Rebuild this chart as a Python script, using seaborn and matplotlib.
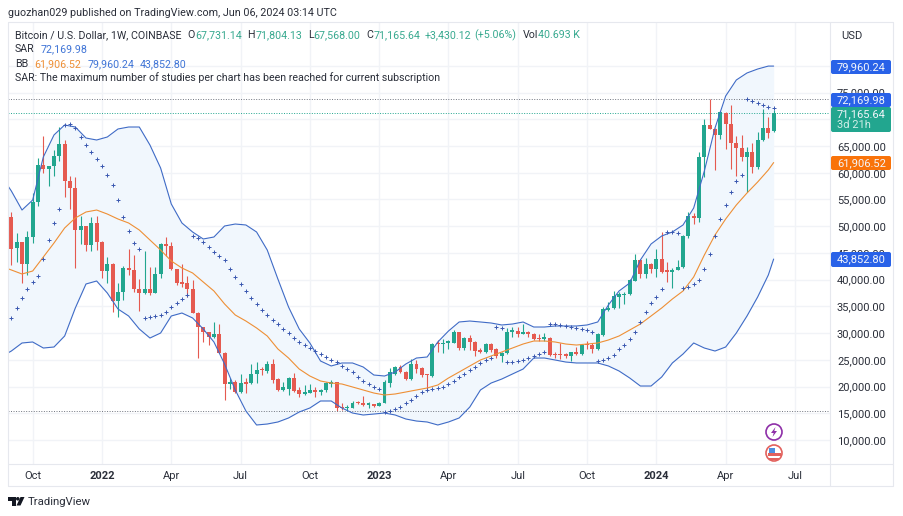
import matplotlib
matplotlib.use('Agg')
import pandas as pd
import matplotlib.pyplot as plt
from matplotlib.lines import Line2D
from matplotlib.patches import Circle, FancyBboxPatch, Polygon, Rectangle
from matplotlib.ticker import StrMethodFormatter
from matplotlib.transforms import IdentityTransform
import seaborn as sns

# Weekly candles, BTC/USD
opens = [51660, 45920, 47040, 42990, 48040, 54530, 61390, 60640, 61200, 63140,
         65380, 58520, 57150, 49290, 49980, 46480, 50660, 47110, 41680, 42930,
         36070, 37750, 42240, 41800, 38190, 37440, 38190, 37570, 41060, 46670,
         46300, 41930, 39560, 39310, 38310, 33820, 31140, 30140, 29210, 29770,
         26340, 20410, 20850, 18980, 20730, 20600, 22410, 23280, 22910, 24220,
         21480, 19350, 19540, 21660, 19290, 18610, 18790, 19290, 19040, 19350,
         20540, 20790, 16240, 15920, 16050, 17110, 16920, 16550, 16740, 16420,
         16920, 20600, 22350, 23660, 22790, 21410, 24160, 23410, 22290, 22040,
         28090, 27900, 28150, 28210, 30140, 27150, 29150, 28400, 26780, 26530,
         27960, 27030, 25780, 26220, 30210, 30460, 29890, 30140, 29830, 29020,
         28900, 29150, 26030, 26030, 25900, 25720, 26400, 26030, 27900, 27770,
         27030, 29650, 34320, 34630, 36820, 37070, 37250, 39810, 43680, 41120,
         42930, 41990, 43860, 41620, 41430, 41870, 42430, 48230, 51910, 51530,
         62950, 68940, 68190, 67000, 71120, 69190, 65630, 64700, 62890, 63880,
         61140, 66130, 68310, 67731]
closes = [45800, 46980, 42990, 48040, 54530, 61390, 60640, 61200, 63140, 65380,
          58520, 57150, 49290, 49980, 46480, 50660, 47110, 41680, 42930, 36070,
          37750, 42240, 41800, 38190, 37570, 38190, 37570, 41060, 46670, 46300,
          41930, 39440, 39190, 38310, 33820, 31140, 30140, 29210, 29770, 26340,
          20410, 20850, 18980, 20600, 20480, 22410, 23100, 23030, 24220, 21230,
          19350, 19920, 21660, 19170, 18610, 18860, 19290, 18920, 19350, 20600,
          20790, 15920, 15920, 16050, 16980, 16860, 16490, 16740, 16360, 16920,
          20910, 22790, 23660, 22660, 21480, 24160, 23280, 22160, 22100, 27900,
          27900, 28150, 28340, 30140, 27150, 29020, 28340, 26650, 26530, 27960,
          26900, 25780, 26340, 30270, 30390, 29830, 30080, 29770, 28960, 28830,
          29020, 25900, 25840, 25840, 25780, 26400, 26030, 27770, 27710, 27030,
          29830, 34450, 34760, 36940, 37250, 37320, 39940, 43680, 41120, 42930,
          41990, 43860, 41490, 41430, 41870, 42430, 48230, 51910, 51530, 62950,
          68940, 68190, 67000, 71430, 69190, 65630, 64700, 62890, 63880, 61140,
          66130, 68310, 67500, 71165]
highs = [52720, 48670, 47100, 49170, 56280, 62700, 66880, 61300, 64260, 68620,
         66130, 59390, 59140, 51910, 50100, 51790, 51910, 47230, 44300, 43180,
         39310, 42550, 45670, 44610, 40060, 45420, 42430, 42310, 46800, 48040,
         47110, 42060, 42930, 40680, 39940, 33900, 31200, 30270, 32140, 31640,
         26400, 21540, 21220, 22350, 21540, 24220, 24530, 23720, 24840, 25090,
         21600, 20850, 21760, 22600, 19850, 20230, 20480, 19850, 19480, 20910,
         21230, 20900, 16860, 16550, 17300, 17300, 18230, 17050, 16800, 17050,
         21230, 23410, 23850, 23970, 22910, 25090, 24970, 23720, 22400, 28090,
         28710, 28840, 28710, 30580, 30270, 29330, 29650, 28590, 27150, 28090,
         28210, 27150, 26530, 30890, 31080, 31080, 31700, 30460, 30080, 29770,
         29960, 29330, 26530, 28090, 26210, 26530, 27460, 27900, 28520, 28090,
         29960, 34950, 35820, 37940, 37750, 37750, 40060, 44800, 43800, 43990,
         43180, 45740, 48850, 43360, 42120, 43680, 48300, 52720, 52530, 63820,
         70000, 73835, 68400, 71620, 71370, 72680, 66880, 67070, 64880, 65510,
         67690, 71870, 70370, 71804]
lows = [42740, 43370, 39440, 40870, 46800, 53780, 59890, 57520, 59390, 62200,
        55400, 53160, 42180, 46670, 45300, 45300, 45550, 40250, 39440, 33880,
        33070, 36190, 40870, 37750, 34200, 37300, 37070, 37500, 40250, 44430,
        41810, 39000, 38560, 36820, 33700, 25280, 28400, 27770, 29100, 26210,
        17480, 19480, 18730, 18730, 18730, 20500, 20600, 22160, 22470, 20600,
        19250, 19250, 18420, 19070, 17980, 18420, 18730, 17980, 18420, 19040,
        19980, 15480, 15610, 15490, 15920, 16670, 16360, 16050, 16240, 16360,
        16860, 19980, 22160, 22470, 21230, 21230, 22470, 21850, 19540, 21850,
        26530, 26340, 26960, 28090, 26840, 26840, 26840, 25720, 26220, 26340,
        26530, 25280, 24660, 26090, 29330, 29330, 29770, 29330, 28710, 28580,
        28580, 25720, 25280, 25150, 25280, 24840, 25900, 25900, 27030, 26340,
        26840, 29460, 34200, 34450, 34630, 35450, 37130, 39690, 40250, 40250,
        41180, 40560, 41310, 39620, 38380, 41740, 42240, 47730, 50410, 50850,
        59140, 68120, 60520, 66250, 64450, 60700, 59460, 62260, 56400, 60020,
        60640, 66000, 66440, 67568]

# Parabolic SAR, one value per week
sar = [32830, 34700, 36570, 38250, 39560, 40680, 43870, 47420, 50600, 53220,
       68940, 69120, 68380, 66690, 65190, 63880, 62580, 61270, 59580, 57710,
       54900, 51720, 49100, 46860, 45740, 32830, 33010, 33200, 33390, 33950,
       34880, 35630, 36380, 37130, 48170, 47790, 47050, 46110, 45170, 44430,
       43680, 41990, 40500, 39190, 37880, 36570, 35450, 34320, 33390, 32450,
       31700, 30770, 30020, 29080, 28340, 27770, 27210, 26650, 26090, 25530,
       24970, 24590, 23850, 23280, 22720, 21790, 21040, 20480, 19920, 19540,
       15240, 15430, 15800, 16170, 16920, 17480, 18230, 18980, 19360, 19540,
       19730, 19920, 20480, 21040, 21790, 22350, 23100, 23660, 24410, 24970,
       25340, 31140, 30960, 24590, 24590, 24780, 24970, 25340, 25720, 26090,
       26470, 31700, 31700, 31520, 31330, 31140, 30960, 30770, 30580, 30210,
       24780, 24970, 25340, 25900, 27030, 27770, 28900, 30210, 32080, 33950,
       35630, 36760, 38250, 48920, 48920, 48730, 38440, 38630, 39190, 39940,
       41990, 44800, 48170, 51350, 53970, 56400, 58460, 59580, 73800, 73430,
       73050, 72680, 72300, 72170]

# Bollinger bands, read every second week (plus one week before the first candle)
bb_upper = [58080, 56590, 53030, 54900, 62950, 67070, 68940, 68560, 66500, 66130,
            66690, 68190, 68560, 68560, 65190, 60890, 54160, 50600, 48920, 47610,
            47980, 50040, 50410, 50230, 48920, 45550, 40120, 34880, 30770, 28150,
            24780, 23850, 24410, 24410, 23660, 22160, 21970, 22720, 24220, 25340,
            25530, 28340, 30390, 32080, 32260, 32080, 31890, 31520, 31700, 32080,
            31140, 31140, 31330, 31330, 31330, 31520, 32080, 35260, 37880, 39370,
            43680, 46670, 48170, 48920, 50230, 53410, 60330, 68380, 74360, 77360,
            78670, 79410, 79960, 79960]
bb_basis = [42180, 41810, 41060, 41620, 44240, 46860, 49670, 51540, 52660, 53030,
            52280, 51350, 50600, 49290, 47420, 45550, 43490, 42180, 41250, 39560,
            37880, 35450, 33390, 32260, 30960, 29460, 27030, 25340, 23280, 21970,
            21040, 20660, 20480, 19920, 19360, 18790, 18420, 18610, 18980, 19360,
            19730, 20290, 21600, 22720, 23850, 24970, 25720, 26470, 27210, 27960,
            28520, 28520, 28340, 27960, 27770, 27960, 28150, 28710, 29460, 30580,
            31700, 33200, 34700, 36380, 37880, 40500, 44610, 48360, 51350, 53970,
            56210, 58270, 60520, 61907]
bb_lower = [26090, 26650, 28150, 28340, 27210, 27400, 29460, 34700, 39190, 39750,
            37500, 34510, 33200, 30770, 29080, 30020, 33200, 33760, 32830, 30770,
            28340, 24220, 19360, 15430, 12810, 12990, 13370, 14120, 15240, 15990,
            17300, 17300, 15990, 15050, 14680, 14860, 15050, 14680, 13930, 13550,
            13370, 12810, 13370, 14120, 16170, 19360, 20660, 21410, 22350, 23280,
            25340, 25340, 24970, 24590, 24410, 24410, 24410, 23850, 22910, 21600,
            20100, 20100, 21790, 24410, 26090, 28150, 27210, 26650, 27400, 30020,
            33200, 36760, 40870, 43853]

# 70,000 and 80,000 sit fully behind the price tags, so they are left out
price_ticks = [10000, 15000, 20000, 25000, 30000, 35000, 40000, 45000, 50000,
               55000, 60000, 65000, 75000]
grid_prices = [70000, 80000]
time_labels = ['Oct', '2022', 'Apr', 'Jul', 'Oct', '2023', 'Apr', 'Jul', 'Oct',
               '2024', 'Apr', 'Jul']
time_ticks = ['2021-10-04', '2022-01-03', '2022-04-04', '2022-07-04', '2022-10-03',
              '2023-01-02', '2023-04-03', '2023-07-03', '2023-10-02', '2024-01-01',
              '2024-04-01', '2024-07-01']
all_time_high = 73835
all_time_low = 15476
last_close = 71165.64

UP = '#22a68f'
DOWN = '#e55a50'
BLUE = '#3f6bc6'
ORANGE = '#ee8f35'
TEXT = '#2a2e39'
GRID = '#f1f3f7'
W, H = 904, 516

sns.set_theme(style='whitegrid', rc={'grid.color': GRID, 'grid.linewidth': 1.0})
plt.rcParams['font.family'] = ['Roboto', 'DejaVu Sans']

df = pd.DataFrame({'open': opens, 'high': highs, 'low': lows, 'close': closes, 'sar': sar})
df['date'] = pd.date_range('2021-09-06', periods=len(df), freq='7D')

# band dates: week before first candle, every 2nd week, then the last week
bb_dates = [df['date'][0] - pd.Timedelta(days=7)] + list(df['date'][::2]) + [df['date'].iloc[-1]]

fig = plt.figure(figsize=(W / 100, H / 100), dpi=100, facecolor='white')
ax = fig.add_axes([8 / W, (H - 464) / H, 822 / W, 442 / H])

# Bands
ax.fill_between(bb_dates, bb_lower, bb_upper, color='#f1f7fd', lw=0, zorder=1)

# Candles
up = df['close'] >= df['open']
colors = [UP if u else DOWN for u in up]
ax.vlines(df['date'], df['low'], df['high'], colors=colors, lw=0.8, zorder=2)
body_low = df[['open', 'close']].min(axis=1)
body_h = (df['close'] - df['open']).abs().clip(lower=300)
ax.bar(df['date'], body_h, bottom=body_low, width=5.2, color=colors, lw=0, zorder=3)

sns.lineplot(x=bb_dates, y=bb_upper, ax=ax, color=BLUE, lw=0.8, zorder=4)
sns.lineplot(x=bb_dates, y=bb_lower, ax=ax, color=BLUE, lw=0.8, zorder=4)
sns.lineplot(x=bb_dates, y=bb_basis, ax=ax, color=ORANGE, lw=0.8, zorder=4)
sns.scatterplot(data=df, x='date', y='sar', ax=ax, marker='+', s=5, linewidth=0.7,
                color='#3a58b0', zorder=5)

# High / low / last price lines
dots = (0, (1, 1.6))
ax.axhline(all_time_high, color='#70747e', lw=0.7, ls=dots, zorder=2)
ax.axhline(all_time_low, color='#70747e', lw=0.7, ls=dots, zorder=2)
ax.axhline(last_close, color=UP, lw=0.7, ls=dots, zorder=2)
for p in grid_prices:
    ax.axhline(p, color=GRID, lw=1.0, zorder=0.5)

# Axes
start = df['date'][0]
ax.set_xlim(start - pd.Timedelta(days=4.4), start + pd.Timedelta(days=1075))
ax.set_ylim(5510, 88208)
ax.set_xlabel('')
ax.set_ylabel('')
ax.set_xticks(pd.to_datetime(time_ticks))
ax.set_xticklabels(time_labels)
ax.set_yticks(price_ticks)
ax.yaxis.tick_right()
ax.yaxis.set_major_formatter(StrMethodFormatter('{x:,.2f}'))
ax.tick_params(axis='both', length=0, labelsize=8.0, labelcolor=TEXT)
ax.tick_params(axis='x', pad=5)
ax.tick_params(axis='y', pad=5)
for lab in ax.get_xticklabels():
    if lab.get_text().startswith('20'):
        lab.set_fontweight('bold')
for s in ax.spines.values():
    s.set_visible(False)
ax.grid(True)


# --- chrome drawn in pixels, y measured from the top of the picture
def hline(x0, x1, y, color='#e6e8ee'):
    fig.add_artist(Line2D([x0, x1], [H - y, H - y], transform=IdentityTransform(),
                          color=color, lw=0.8, zorder=4))


def vline(x, y0, y1, color='#e6e8ee'):
    fig.add_artist(Line2D([x, x], [H - y0, H - y1], transform=IdentityTransform(),
                          color=color, lw=0.8, zorder=4))


def tag(y0, y1, color, label):
    fig.add_artist(FancyBboxPatch((831, H - y1), 60, y1 - y0, transform=IdentityTransform(),
                                  boxstyle='round,pad=0,rounding_size=2', fc=color, ec='none',
                                  zorder=5))
    fig.text(837 / W, 1 - (y0 + 7) / H, label, color='#f4f6fb', fontsize=8.0, va='center',
             zorder=6)


hline(8, 893, 22)
hline(8, 893, 464)
hline(8, 893, 486)
vline(8, 22, 486)
vline(830, 22, 486)
vline(893, 22, 486)

fig.text(841 / W, 1 - 36 / H, 'USD', color=TEXT, fontsize=8.0, va='center', zorder=6)
tag(60, 74, '#2962e8', '79,960.24')
tag(93, 107, '#2962e8', '72,169.98')
tag(107, 132, '#22a68f', '71,165.64')
fig.text(837 / W, 1 - 125.5 / H, '3d 21h', color='#cfeee8', fontsize=8.0, va='center', zorder=6)
tag(156, 170, '#f9730a', '61,906.52')
tag(252, 267, '#2962e8', '43,852.80')

fig.text(8 / W, 1 - 12.5 / H, 'guozhan029 published on TradingView.com, Jun 06, 2024 03:14 UTC',
         color=TEXT, fontsize=7.75, va='center')


def text_row(x, y, parts, size=7.7):
    # write coloured pieces one after the other, each starting where the last ended
    renderer = fig.canvas.get_renderer()
    for s, color, gap in parts:
        t = fig.text(x / W, 1 - y / H, s, color=color, fontsize=size, va='center', zorder=6)
        x = t.get_window_extent(renderer).x1 + gap


GREEN_TXT = '#37a98f'
LBLUE = '#3f74d6'
text_row(15, 35, [('Bitcoin / U.S. Dollar, 1W, COINBASE', TEXT, 6),
                  ('O', TEXT, 0), ('67,731.14', GREEN_TXT, 6),
                  ('H', TEXT, 0), ('71,804.13', GREEN_TXT, 6),
                  ('L', TEXT, 0), ('67,568.00', GREEN_TXT, 6),
                  ('C', TEXT, 0), ('71,165.64', GREEN_TXT, 4),
                  ('+3,430.12', GREEN_TXT, 4), ('(+5.06%)', GREEN_TXT, 6),
                  ('Vol', TEXT, 0), ('40.693 K', GREEN_TXT, 0)])
text_row(15, 49.5, [('SAR', TEXT, 6), ('72,169.98', LBLUE, 0)])
text_row(15, 64, [('BB', TEXT, 6), ('61,906.52', ORANGE, 6), ('79,960.24', LBLUE, 6),
                  ('43,852.80', LBLUE, 0)])
text_row(15, 78, [('SAR: The maximum number of studies per chart has been reached for current subscription',
                   TEXT, 0)])

# TradingView logo
trans = IdentityTransform()
fig.add_artist(Polygon([(8, H - 497), (15.5, H - 497), (15.5, H - 505.5), (11.5, H - 505.5),
                        (11.5, H - 500.5), (8, H - 500.5)], transform=trans, fc='#131722', ec='none'))
fig.add_artist(Circle((17.8, H - 498.8), 1.8, transform=trans, fc='#131722', ec='none'))
fig.add_artist(Polygon([(20.5, H - 497), (24.5, H - 497), (20.5, H - 505.5), (16.5, H - 505.5)],
                       transform=trans, fc='#131722', ec='none'))
fig.text(28 / W, 1 - 502 / H, 'TradingView', color='#2a2e39', fontsize=8.2, va='center')

# Event icons near the bottom of the last candle
fig.add_artist(Circle((774, H - 432), 8, transform=trans, fc='white', ec='#8e2fa8', lw=1.2, zorder=5))
fig.add_artist(Polygon([(775.5, H - 427), (771, H - 433), (773.7, H - 433), (772.5, H - 437),
                        (777, H - 431), (774.3, H - 431)], transform=trans, fc='#8e2fa8', ec='none', zorder=6))
fig.add_artist(Circle((774, H - 453), 8, transform=trans, fc='white', ec='#e2605c', lw=1.2, zorder=5))
fig.add_artist(Rectangle((767.5, H - 456), 13, 2.6, transform=trans, fc='#e2605c', ec='none', zorder=6))
fig.add_artist(Rectangle((769, H - 460), 10, 1.8, transform=trans, fc='#e2605c', ec='none', zorder=6))
fig.add_artist(Rectangle((768.5, H - 452.5), 6.5, 5, transform=trans, fc='#4d8fe0', ec='none', zorder=6))

fig.savefig('out.png', dpi=100)
